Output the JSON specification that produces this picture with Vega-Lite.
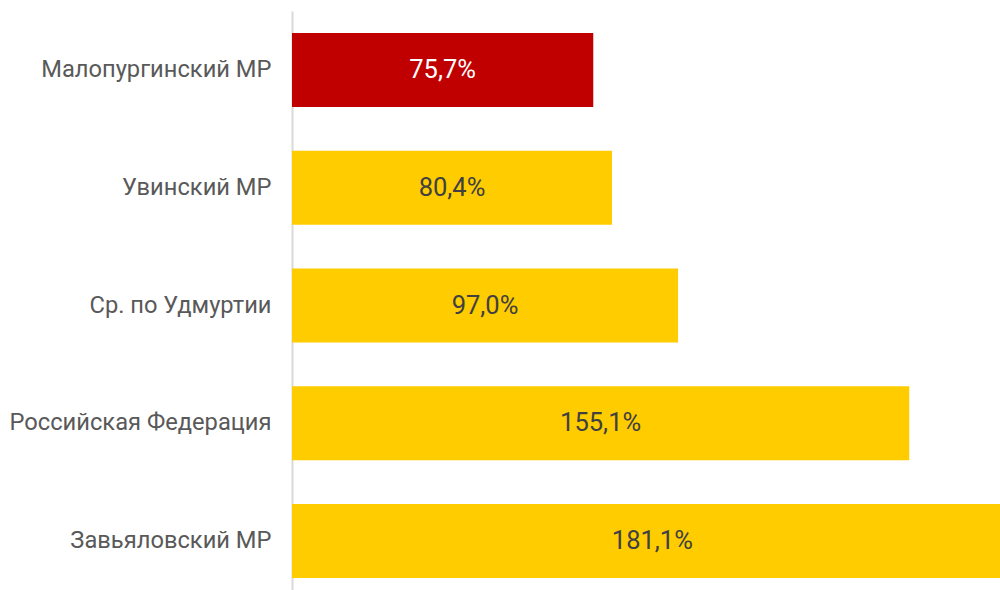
{
  "$schema": "https://vega.github.io/schema/vega-lite/v6.json",
  "autosize": "none",
  "width": 708,
  "height": 589,
  "padding": {"left": 292, "top": 11, "right": 0, "bottom": 0},
  "background": "white",
  "config": {"view": {"stroke": null}, "font": "Roboto"},
  "data": {"values": [
    {"region": "Малопургинский МР", "value": 75.7, "label": "75,7%"},
    {"region": "Увинский МР", "value": 80.4, "label": "80,4%"},
    {"region": "Ср. по Удмуртии", "value": 97.0, "label": "97,0%"},
    {"region": "Российская Федерация", "value": 155.1, "label": "155,1%"},
    {"region": "Завьяловский МР", "value": 181.1, "label": "181,1%"}
  ]},
  "encoding": {
    "y": {"field": "region", "type": "nominal", "sort": null,
      "scale": {"paddingInner": 0.372, "paddingOuter": 0.186},
      "axis": {"title": null, "ticks": false, "domainColor": "#d9d9d9", "domainWidth": 2,
        "labelFont": "Roboto", "labelFontSize": 23.7, "labelColor": "#595959", "labelPadding": 21, "labelLimit": 300}}
  },
  "layer": [
    {"mark": {"type": "bar", "clip": true},
     "encoding": {
       "x": {"field": "value", "type": "quantitative",
         "scale": {"domain": [0, 177.9], "nice": false, "zero": true}, "axis": null},
       "color": {"condition": {"test": "datum.region === 'Малопургинский МР'", "value": "#C00000"}, "value": "#FFCC00"}}},
    {"transform": [{"calculate": "datum.value / 2", "as": "mid"}],
     "mark": {"type": "text", "font": "Roboto", "fontSize": 25.5, "align": "center", "baseline": "middle"},
     "encoding": {
       "x": {"field": "mid", "type": "quantitative"},
       "text": {"field": "label"},
       "color": {"condition": {"test": "datum.region === 'Малопургинский МР'", "value": "#FFFFFF"}, "value": "#404040"}
     }}
  ]
}
